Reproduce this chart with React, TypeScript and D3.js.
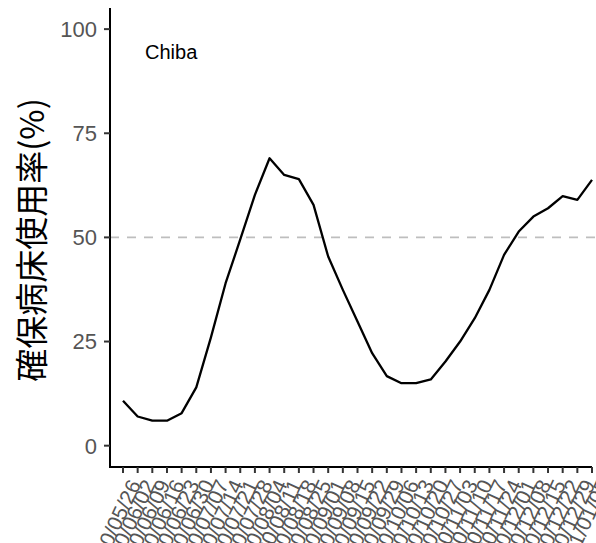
import React from "react";
import * as d3 from "d3";

const dates = [
  "2020/05/26","2020/06/02","2020/06/09","2020/06/16","2020/06/23","2020/06/30",
  "2020/07/07","2020/07/14","2020/07/21","2020/07/28","2020/08/04","2020/08/11",
  "2020/08/18","2020/08/25","2020/09/01","2020/09/08","2020/09/15","2020/09/22",
  "2020/09/29","2020/10/06","2020/10/13","2020/10/20","2020/10/27","2020/11/03",
  "2020/11/10","2020/11/17","2020/11/24","2020/12/01","2020/12/08","2020/12/15",
  "2020/12/22","2020/12/29","2021/01/05",
];
const values = [
  10.8, 7.0, 6.0, 6.0, 7.8, 14.0, 26.0, 39.0, 49.5, 60.2, 69.0, 65.0,
  64.0, 57.8, 45.4, 37.4, 29.8, 22.2, 16.7, 15.0, 15.0, 15.9, 20.2, 25.0,
  30.6, 37.4, 45.8, 51.4, 55.0, 57.0, 59.9, 59.0, 63.8,
];
const yTicks = [0, 25, 50, 75, 100];
const refLine = 50;
const panelLabel = "Chiba";
const yTitle = "確保病床使用率(%)";

export default function App() {
  const W = 596, H = 543;
  const axisX = 110, axisY = 467;
  const x = d3.scalePoint<string>().domain(dates).range([123, 592]);
  const y = d3.scaleLinear().domain([-5, 105]).range([466.5, 8.3]);
  const line = d3.line<number>()
    .x((_, i) => x(dates[i]) as number)
    .y((d) => y(d));
  const font = "'Liberation Sans', Arial, 'Noto Sans CJK JP', sans-serif";
  return (
    <svg width={W} height={H} style={{ position: "absolute", left: 0, top: 0, background: "#fff" }}>
      <rect width={W} height={H} fill="#fff" />
      <line x1={axisX} x2={W} y1={y(refLine)} y2={y(refLine)} stroke="#bebebe" strokeWidth={1.8} strokeDasharray="9,8" />
      <path d={line(values) || ""} fill="none" stroke="#000" strokeWidth={2.3} strokeLinejoin="round" />
      {/* axes */}
      <line x1={axisX} x2={axisX} y1={8} y2={axisY + 1} stroke="#000" strokeWidth={2} />
      <line x1={axisX - 1} x2={592} y1={axisY} y2={axisY} stroke="#000" strokeWidth={2} />
      {yTicks.map((t) => (
        <g key={t}>
          <line x1={axisX - 6} x2={axisX} y1={y(t)} y2={y(t)} stroke="#333" strokeWidth={2} />
          <text x={axisX - 13} y={y(t)} dy="0.36em" textAnchor="end" fontFamily={font} fontSize={22} fill="#555">{t}</text>
        </g>
      ))}
      {dates.map((d) => {
        const px = x(d) as number;
        return (
          <g key={d}>
            <line x1={px} x2={px} y1={axisY} y2={axisY + 6} stroke="#333" strokeWidth={2} />
            <text transform={`translate(${px + 5},${axisY + 11}) rotate(-65)`} textAnchor="end" dy="0.7em" fontFamily={font} fontSize={21} fill="#555">{d}</text>
          </g>
        );
      })}
      <text x={145} y={59} fontFamily={font} fontSize={20} fill="#000">{panelLabel}</text>
      <text transform={`translate(44,240) rotate(-90)`} textAnchor="middle" fontFamily="'Noto Sans CJK JP', sans-serif" fontSize={33} fill="#000">{yTitle}</text>
    </svg>
  );
}
